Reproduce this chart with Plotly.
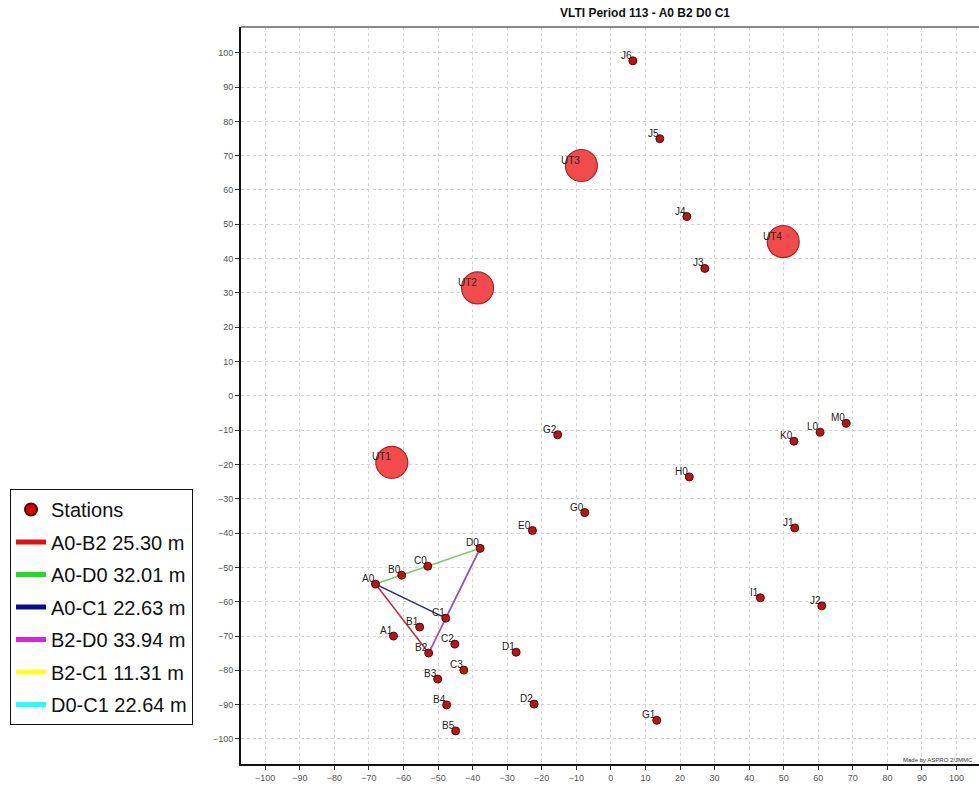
import plotly.graph_objects as go

# VLTI station positions (metres, east / north, centred on the array)
station_names = ["A0", "A1", "B0", "B1", "B2", "B3", "B4", "B5",
                 "C0", "C1", "C2", "C3", "D0", "D1", "D2", "E0",
                 "G0", "G1", "G2", "H0", "I1", "J1", "J2", "J3",
                 "J4", "J5", "J6", "K0", "L0", "M0"]
station_x = [-68.09, -62.88, -60.51, -55.31, -52.71, -50.10, -47.50, -44.90,
             -52.96, -47.76, -45.15, -42.55, -37.82, -27.41, -22.20, -22.69,
             -7.55, 13.27, -15.38, 22.70, 43.26, 53.20, 61.01, 27.18,
             21.98, 14.17, 6.36, 52.95, 60.53, 68.09]
station_y = [-54.87, -70.01, -52.27, -67.39, -74.96, -82.54, -90.09, -97.65,
             -49.66, -64.79, -72.36, -79.92, -44.45, -74.72, -89.84, -39.25,
             -34.03, -94.56, -11.35, -23.63, -58.85, -38.50, -61.21, 37.14,
             52.26, 74.95, 97.65, -13.22, -10.61, -8.01]

# Unit telescopes
ut_names = ["UT1", "UT2", "UT3", "UT4"]
ut_x = [-63.37, -38.56, -8.53, 49.86]
ut_y = [-19.39, 31.45, 67.13, 44.94]

# Baselines of the A0 B2 D0 C1 configuration
baseline_pairs = [("A0", "B2"), ("A0", "D0"), ("A0", "C1"),
                  ("B2", "D0"), ("B2", "C1"), ("D0", "C1")]
baseline_lengths = [25.30, 32.01, 22.63, 33.94, 11.31, 22.64]
legend_colors = ["#e01010", "#22dd22", "#0a0a90", "#dd22dd", "#ffff22", "#22ffff"]
line_colors = ["#c03048", "#78d068", "#24308a", "#a848c0", "#f0e030", "#30e8f0"]
draw_order = [4, 5, 0, 1, 2, 3]  # coincident B2-C1 / D0-C1 lie under B2-D0

title_text = "VLTI Period 113 - A0 B2 D0 C1"
credit_text = "Made by ASPRO 2/JMMC"
tick_vals = list(range(-100, 101, 10))

pos = {n: (x, y) for n, x, y in zip(station_names, station_x, station_y)}

fig = go.Figure()

# baseline segments (no legend entries; legend built below)
for i in draw_order:
    a, b = baseline_pairs[i]
    fig.add_trace(go.Scatter(
        x=[pos[a][0], pos[b][0]], y=[pos[a][1], pos[b][1]],
        mode="lines", line=dict(color=line_colors[i], width=1.6),
        showlegend=False, hoverinfo="skip"))

# stations
fig.add_trace(go.Scatter(
    x=station_x, y=station_y, mode="markers",
    marker=dict(size=8, color="#b21818", line=dict(color="#6a0000", width=1)),
    text=station_names, hoverinfo="text", showlegend=False))

# unit telescopes
fig.add_trace(go.Scatter(
    x=ut_x, y=ut_y, mode="markers",
    marker=dict(size=32, color="#f24b4b", line=dict(color="#a82828", width=1.2)),
    text=ut_names, hoverinfo="text", showlegend=False))

# legend entries
fig.add_trace(go.Scatter(
    x=[None], y=[None], mode="markers", name="Stations",
    marker=dict(size=13, color="#dd0000", line=dict(color="#5a0000", width=1)),
    legendgroup="st"))
for i, (a, b) in enumerate(baseline_pairs):
    fig.add_trace(go.Scatter(
        x=[None], y=[None], mode="lines",
        name=f"{a}-{b} {baseline_lengths[i]:.2f} m",
        line=dict(color=legend_colors[i], width=3),
        legendgroup=f"bl{i}"))

# station labels, bottom-right corner at the station
annotations = []
for n, x, y in list(zip(station_names, station_x, station_y)) + list(zip(ut_names, ut_x, ut_y)):
    annotations.append(dict(
        x=x, y=y, xref="x", yref="y", text=n, showarrow=False,
        xanchor="right", yanchor="bottom", xshift=1, yshift=-2,
        font=dict(family="Liberation Sans, Arial, sans-serif", size=10, color="#222222")))

annotations.append(dict(
    x=0.9946, y=0.006, xref="paper", yref="paper", text=credit_text,
    showarrow=False, xanchor="right", yanchor="middle",
    font=dict(family="Liberation Sans, Arial, sans-serif", size=6, color="#333333")))

axis_common = dict(
    tickvals=tick_vals, ticks="outside", ticklen=4, tickwidth=1, tickcolor="#333333",
    showgrid=True, gridcolor="#d6d6d6", griddash="dot", gridwidth=1,
    zeroline=False, showline=True, linecolor="#111111", linewidth=2,
    tickfont=dict(family="Liberation Sans, Arial, sans-serif", size=9, color="#555555"),
    fixedrange=True)

fig.update_layout(
    width=979, height=787,
    margin=dict(l=241, r=0, t=27, b=23),
    paper_bgcolor="white", plot_bgcolor="white",
    title=dict(text=f"<b>{title_text}</b>", x=645 / 979, xref="container", xanchor="center",
               y=1 - 13 / 787, yref="container", yanchor="middle",
               font=dict(family="Liberation Sans, Arial, sans-serif", size=12, color="#111111")),
    xaxis=dict(range=[-107, 106.5], **axis_common),
    yaxis=dict(range=[-107.3, 107.5], **axis_common),
    legend=dict(x=(10 - 241) / 738, xanchor="left", y=(764 - 489) / 737, yanchor="top",
                bgcolor="white", bordercolor="#111111", borderwidth=1,
                font=dict(family="Liberation Sans, Arial, sans-serif", size=20, color="#111111"),
                tracegroupgap=3.5, itemsizing="constant"),
    annotations=annotations,
    shapes=[dict(type="line", xref="paper", yref="paper", x0=0, x1=1, y0=1, y1=1,
                 line=dict(color="#8a8a8a", width=2))],
)

fig.write_html("out.html")
